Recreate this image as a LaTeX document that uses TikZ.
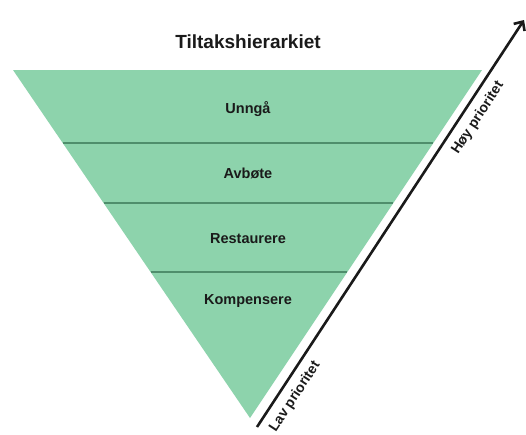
\documentclass[tikz,border=0pt]{standalone}
\usepackage{fontspec}
\setmainfont{Liberation Sans}
\usetikzlibrary{calc,arrows.meta}
\definecolor{lag}{HTML}{8DD3AC}
\definecolor{linje}{HTML}{4F8E6C}
\definecolor{tekst}{HTML}{1A1A1A}

\begin{document}
\begin{tikzpicture}[x=1pt,y=-1pt]
\tikzstyle{every node}=[text=tekst,font=\bfseries]
\tikzstyle{niva}=[font=\bfseries\fontsize{14.5}{16}\selectfont]
\tikzstyle{skille}=[draw=linje,line width=1.2pt]
\tikzstyle{pil}=[draw=tekst,line width=2.6pt,-{Straight Barb[length=7pt,width=13pt]}]
\tikzstyle{prio}=[font=\bfseries\fontsize{14}{16}\selectfont,sloped,below=4pt]
\useasboundingbox (0,0) rectangle (526,434);
% trekanten
\coordinate (tl) at (13,70);
\coordinate (tr) at (482,70);
\coordinate (spiss) at (250,418);
\fill[lag] (tl) -- (tr) -- (spiss) -- cycle;
\draw[skille] ($(tl)!0.2098!(spiss)$) -- ($(tr)!0.2098!(spiss)$);
\draw[skille] ($(tl)!0.382!(spiss)$) -- ($(tr)!0.382!(spiss)$);
\draw[skille] ($(tl)!0.5805!(spiss)$) -- ($(tr)!0.5805!(spiss)$);
\node[font=\bfseries\fontsize{19}{22}\selectfont] (tittel) at (248,42) {Tiltakshierarkiet};
\node[niva] (unnga) at (248,109) {Unngå};
\node[niva] (avbote) at (248,173) {Avbøte};
\node[niva] (restaurere) at (248,239) {Restaurere};
\node[niva] (kompensere) at (248,301) {Kompensere};
% prioritet
\coordinate (lav) at (257,427);
\coordinate (hoy) at (524,20);
\draw[pil] (lav) -- (hoy)
  node[prio,pos=0.095] (lavtekst) {Lav prioritet}
  node[prio,pos=0.78] (hoytekst) {Høy prioritet};
\end{tikzpicture}
\end{document}
